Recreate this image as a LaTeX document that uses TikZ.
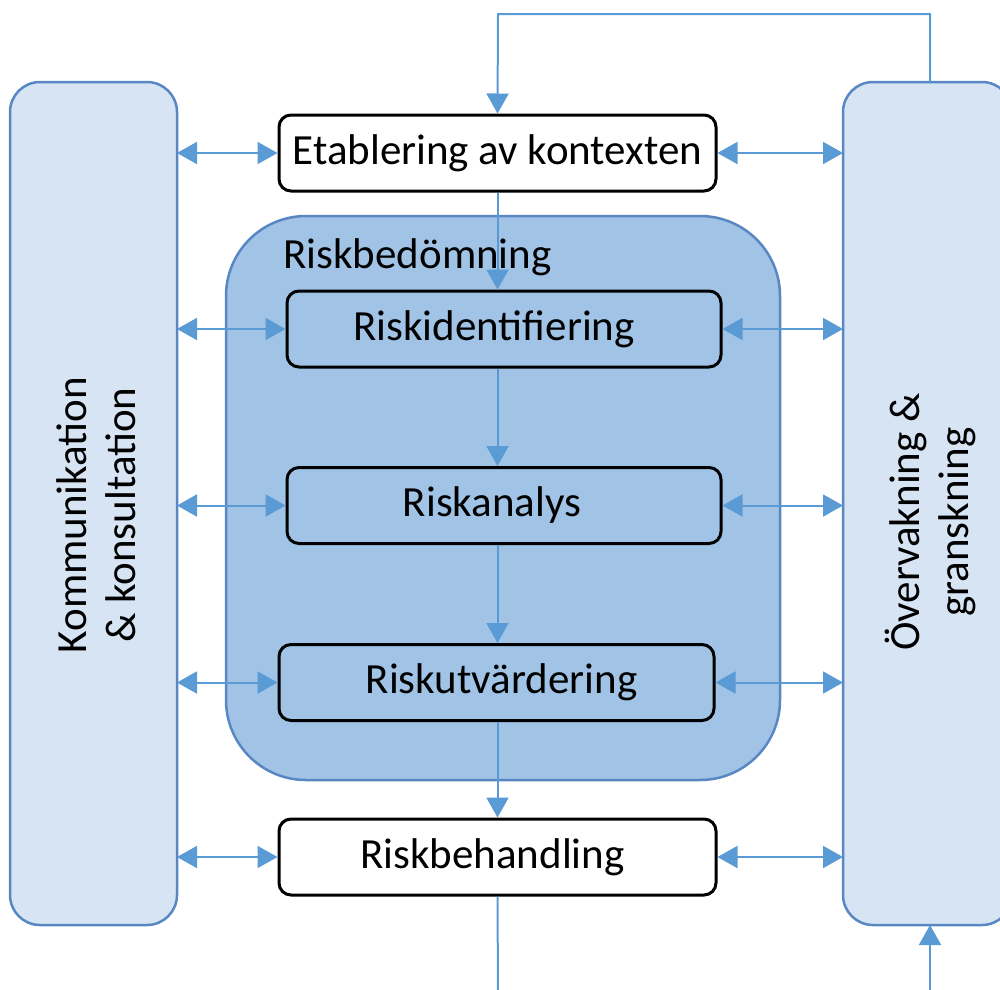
\documentclass[tikz,border=0pt]{standalone}
\usepackage{fontspec}
\setmainfont{Carlito}
\usetikzlibrary{arrows.meta,calc}
\definecolor{lightbg}{RGB}{214,228,243}
\definecolor{midbg}{RGB}{160,195,230}
\definecolor{edgeblue}{RGB}{88,135,195}
\definecolor{arrowblue}{RGB}{91,155,213}
\tikzset{
  sidebox/.style={draw=edgeblue,fill=lightbg,line width=2.5pt,rounded corners=30pt},
  groupbox/.style={draw=edgeblue,fill=midbg,line width=2.5pt,rounded corners=80pt},
  stepbox/.style={draw=black,line width=3pt,rounded corners=12pt,minimum height=76pt,inner sep=0pt,font=\fontsize{43}{48}\selectfont},
  conn/.style={draw=arrowblue,line width=2pt},
  tip/.style={-{Triangle[length=20pt,width=22pt]}},
  dtip/.style={{Triangle[length=20pt,width=22pt]}-{Triangle[length=20pt,width=22pt]}},
}
\begin{document}
\begin{tikzpicture}[x=1pt,y=-1pt]
\useasboundingbox (0,0) rectangle (1000,989);
\clip (0,0) rectangle (1000,989);
% side boxes
\path[sidebox] (10,82) rectangle (177,925);
\node[coordinate] (kom) at (177,500) {};
\path[sidebox] (843,82) rectangle (1012,925);
\node[coordinate] (ovr) at (843,500) {};
\node[rotate=90,align=center,font=\fontsize{43}{49}\selectfont] (komtxt) at (96,515) {Kommunikation\\\& konsultation};
\node[rotate=90,align=center,font=\fontsize{43}{49}\selectfont] (ovrtxt) at (930,522) {Övervakning \&\\granskning};
% group
\path[groupbox] (226,216) rectangle (780,780);
\node[anchor=base west,font=\fontsize{43}{48}\selectfont,inner sep=0pt] (rb) at (283,268) {Riskbedömning};
% steps
\node[stepbox,fill=white,minimum width=437pt] (etab) at (497.5,153) {Etablering av kontexten};
\node[stepbox,fill=midbg,minimum width=434pt] (ident) at (504,329) {\hspace*{-20pt}Riskidentifiering};
\node[stepbox,fill=midbg,minimum width=434pt] (anal) at (504,505.5) {\hspace*{-24pt}Riskanalys};
\node[stepbox,fill=midbg,minimum width=435pt] (utv) at (496.5,682.5) {\hspace*{10pt}Riskutvärdering};
\node[stepbox,fill=white,minimum width=437pt] (beh) at (497.5,857) {\hspace*{-10pt}Riskbehandling};
% vertical flow
\draw[conn,tip] (etab.south) -- (etab.south |- ident.north);
\draw[conn,tip] (etab.south |- ident.south) -- (etab.south |- anal.north);
\draw[conn,tip] (etab.south |- anal.south) -- (etab.south |- utv.north);
\draw[conn,tip] (etab.south |- utv.south) -- (beh.north);
% feedback
\coordinate (fbtop) at (930,82);
\coordinate (fbbot) at (930,925);
\coordinate (bendR) at (930,14);
\coordinate (bendL) at (498,14);
\coordinate (endB) at (498,992);
\coordinate (startR) at (930,992);
\draw[conn,tip] (fbtop) -- (bendR) -- (bendL) -- (etab.north);
\draw[conn] (beh.south) -- (endB);
\draw[conn,tip] (startR) -- (fbbot);
% horizontal double arrows
\foreach \n in {etab,ident,anal,utv,beh}{
  \draw[conn,dtip] (kom |- \n.west) -- (\n.west);
  \draw[conn,dtip] (\n.east) -- (ovr |- \n.east);
}
\end{tikzpicture}
\end{document}
